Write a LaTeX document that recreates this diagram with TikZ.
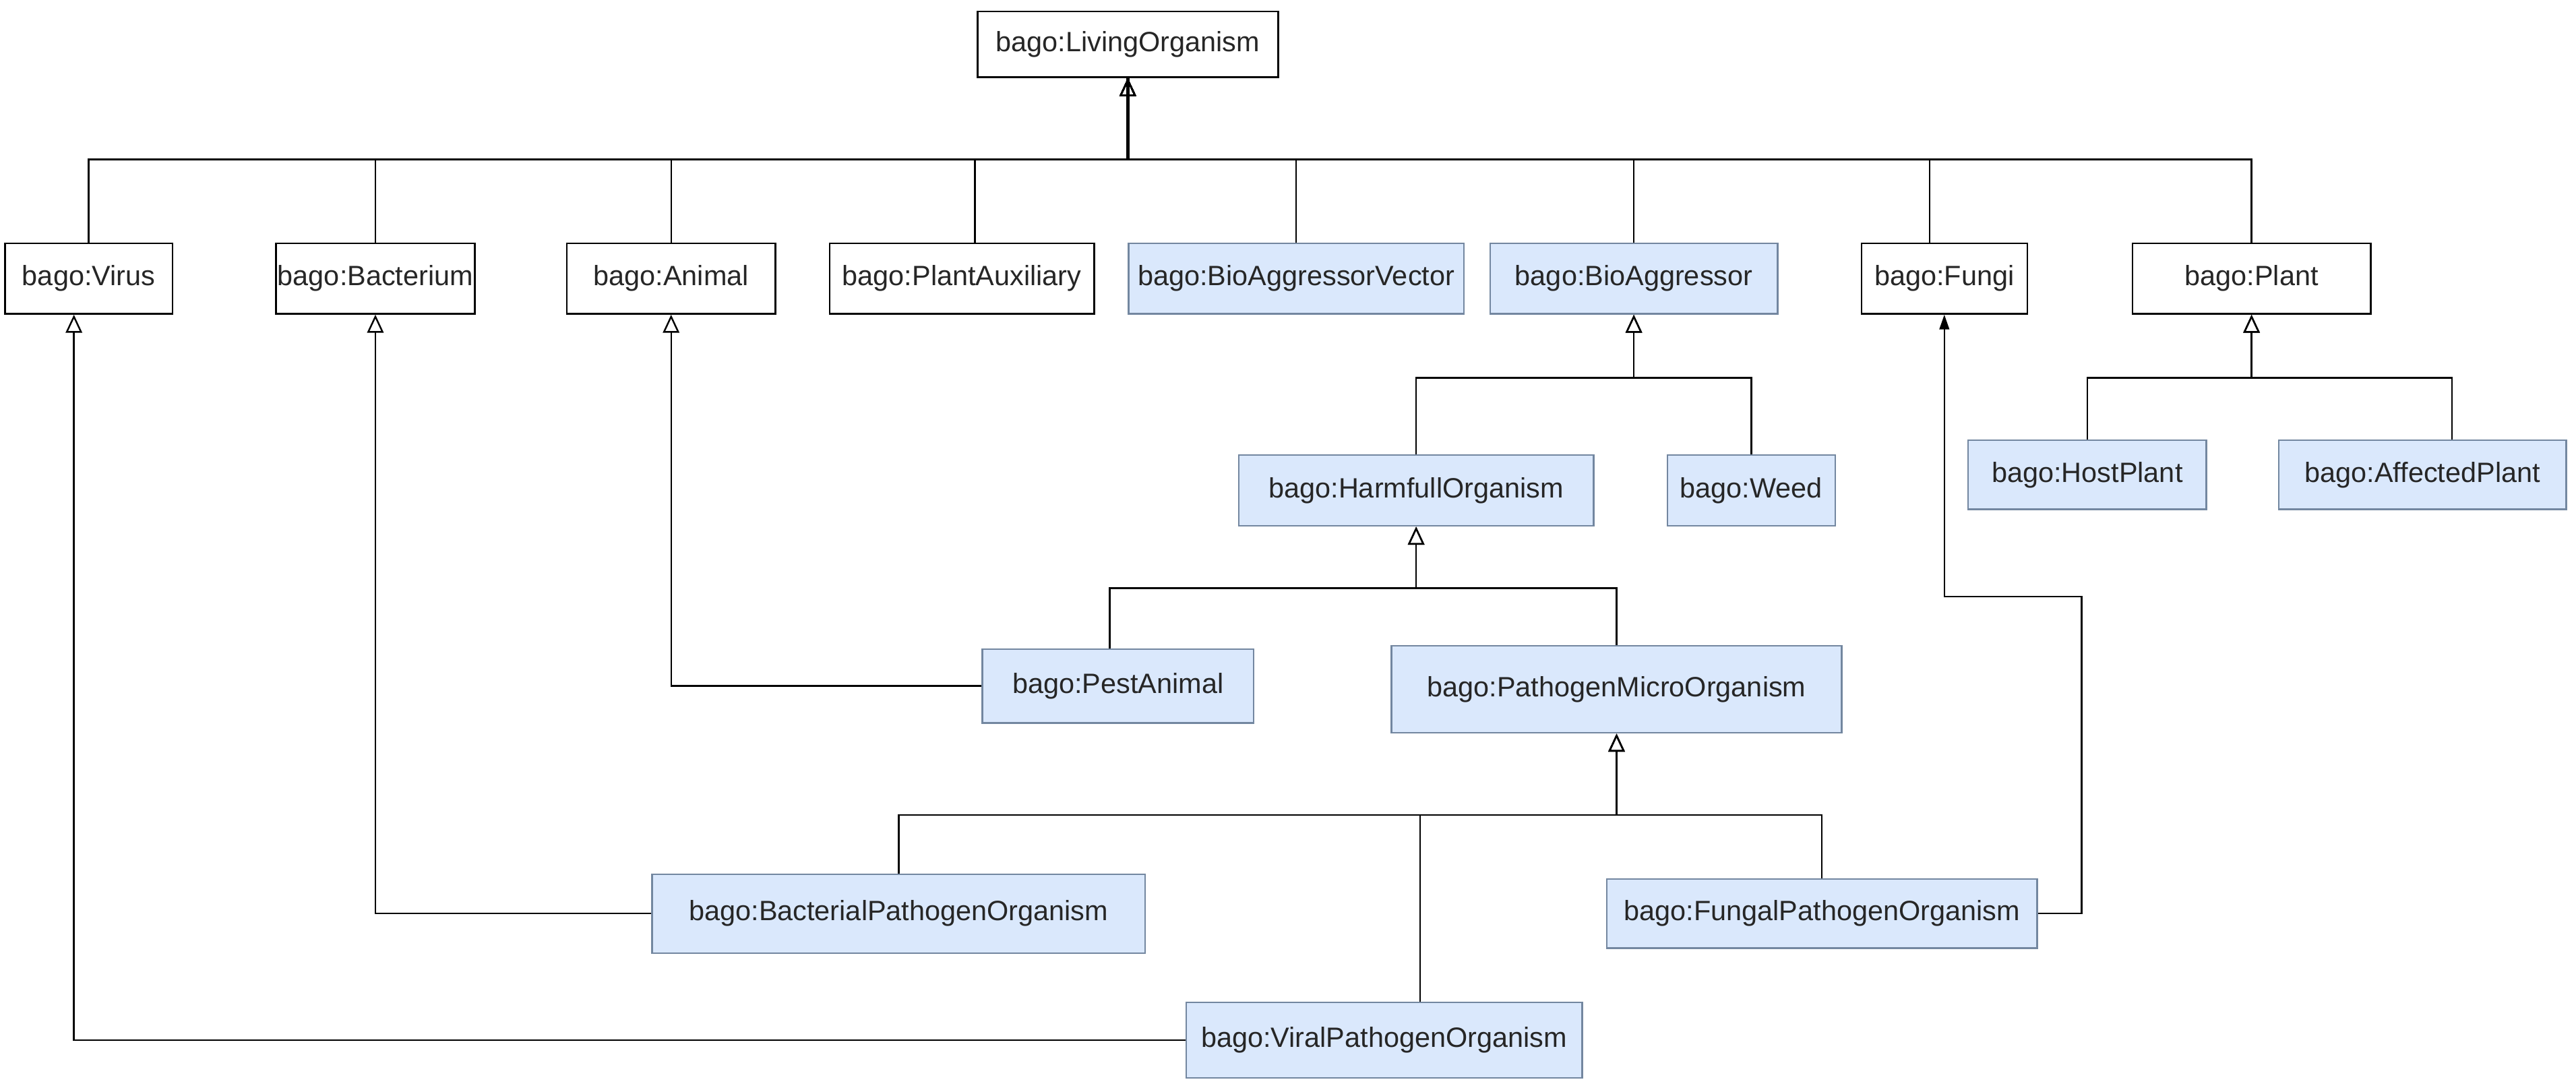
\documentclass[tikz,border=0pt]{standalone}
\usepackage{fontspec}
\setmainfont{Liberation Sans}
\usetikzlibrary{arrows.meta}
\definecolor{bluefill}{HTML}{DAE8FC}
\definecolor{bluestroke}{RGB}{115,135,160}
\tikzset{
  cls/.style={draw=black, line width=1pt, fill=white, inner sep=0pt, minimum height=43pt,
    font=\fontsize{17}{20}\selectfont, text=black!85},
  bcls/.style={cls, draw=bluestroke, fill=bluefill},
  link/.style={line width=1pt, draw=black},
  gen/.style={link, -{Triangle[open, length=11pt, width=10pt, line width=1pt]}},
  assoc/.style={link, -{Triangle[length=9pt, width=6pt]}},
}
\begin{document}
\begin{tikzpicture}[x=1pt, y=-1pt]
\useasboundingbox (0,0) rectangle (1568,662);
\fill[white] (0,0) rectangle (1568,662);

% nodes
\node[cls, minimum width=183pt, minimum height=40pt] (lo) at (686.5,27) {bago:LivingOrganism};
\node[cls, minimum width=102pt] (virus) at (54,169.5) {bago:Virus};
\node[cls, minimum width=121pt] (bacterium) at (228.5,169.5) {bago:Bacterium};
\node[cls, minimum width=127pt] (animal) at (408.5,169.5) {bago:Animal};
\node[cls, minimum width=161pt] (plantaux) at (585.5,169.5) {bago:PlantAuxiliary};
\node[bcls, minimum width=204pt] (bav) at (789,169.5) {bago:BioAggressorVector};
\node[bcls, minimum width=175pt] (ba) at (994.5,169.5) {bago:BioAggressor};
\node[cls, minimum width=101pt] (fungi) at (1183.5,169.5) {bago:Fungi};
\node[cls, minimum width=145pt] (plant) at (1370.5,169.5) {bago:Plant};

\node[bcls, minimum width=216pt] (harm) at (862,298.5) {bago:HarmfullOrganism};
\node[bcls, minimum width=102pt] (weed) at (1066,298.5) {bago:Weed};
\node[bcls, minimum width=145pt, minimum height=42pt] (host) at (1270.5,289) {bago:HostPlant};
\node[bcls, minimum width=175pt, minimum height=42pt] (affected) at (1474.5,289) {bago:AffectedPlant};

\node[bcls, minimum width=165pt, minimum height=45pt] (pest) at (680.5,417.5) {bago:PestAnimal};
\node[bcls, minimum width=274pt, minimum height=53pt] (pmo) at (984,419.5) {bago:PathogenMicroOrganism};

\node[bcls, minimum width=300pt, minimum height=48pt] (bactpo) at (547,556) {bago:BacterialPathogenOrganism};
\node[bcls, minimum width=262pt, minimum height=42pt] (fungpo) at (1109,556) {bago:FungalPathogenOrganism};
\node[bcls, minimum width=241pt, minimum height=46pt] (viralpo) at (842.5,633) {bago:ViralPathogenOrganism};

% bus coordinates
\coordinate (busTop) at (686.5,97);
\coordinate (busBA) at (994.5,230);
\coordinate (busHarm) at (862,358);
\coordinate (busPMO) at (984,496);
\coordinate (busPlant) at (1370.5,230);
\coordinate (hookA) at (1267,363);

% top level generalisations
\draw[link, line width=1.8pt] (busTop) -- (lo.south);
\foreach \n/\dx in {virus/0, bacterium/0, animal/0, plantaux/8, bav/0, ba/0, fungi/-9, plant/0} {
  \draw[gen] ([xshift=\dx pt]\n.north) |- (busTop) -- (lo.south);
}

% BioAggressor
\draw[gen] (harm.north) |- (busBA) -- (ba.south);
\draw[gen] (weed.north) |- (busBA) -- (ba.south);

% Plant
\draw[gen] (host.north) |- (busPlant) -- (plant.south);
\draw[gen] ([xshift=18pt]affected.north) |- (busPlant) -- (plant.south);

% HarmfullOrganism
\draw[gen] ([xshift=-5pt]pest.north) |- (busHarm) -- (harm.south);
\draw[gen] (pmo.north) |- (busHarm) -- (harm.south);

% PathogenMicroOrganism
\draw[gen] (bactpo.north) |- (busPMO) -- (pmo.south);
\draw[gen] ([xshift=22pt]viralpo.north) |- (busPMO) -- (pmo.south);
\draw[gen] (fungpo.north) |- (busPMO) -- (pmo.south);

% cross links
\draw[gen] (pest.west) -| (animal.south);
\draw[gen] (bactpo.west) -| (bacterium.south);
\draw[gen] (viralpo.west) -| ([xshift=-9pt]virus.south);
\draw[assoc] (fungpo.east) -| (hookA) -| (fungi.south);
\end{tikzpicture}
\end{document}
